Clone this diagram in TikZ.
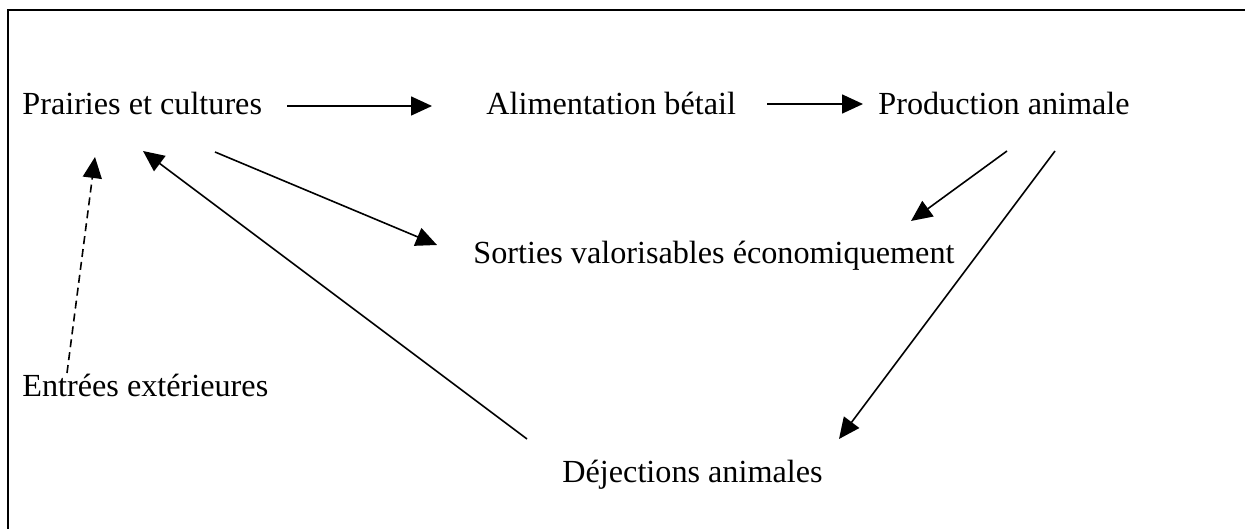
\documentclass[tikz,border=0pt]{standalone}
\usepackage{fontspec}
\setmainfont{Liberation Serif}
\usetikzlibrary{arrows.meta}
\begin{document}
\begin{tikzpicture}[x=0.5bp,y=-0.5bp,
  lbl/.style={anchor=base west,inner sep=0pt,font=\fontsize{16.1bp}{19bp}\selectfont},
  arr/.style={line width=0.8bp,-{Triangle[length=10.5bp,width=9.5bp]}},
  darr/.style={arr,dash pattern=on 4bp off 2.5bp}]
\useasboundingbox (0,0) rectangle (1245,529);
\draw[line width=1.1bp] (8,540) -- (8,10) -- (1255,10);
\node[lbl] (pc) at (22,115) {Prairies et cultures};
\node[lbl] (ab) at (486,115) {Alimentation bétail};
\node[lbl] (pa) at (878,115) {Production animale};
\node[lbl] (sv) at (473,264) {Sorties valorisables économiquement};
\node[lbl] (ee) at (22,396) {Entrées extérieures};
\node[lbl] (da) at (562,482) {Déjections animales};
% connector end points
\coordinate (pcR) at (287,106);
\coordinate (abL) at (432,106);
\coordinate (abR) at (767,104);
\coordinate (paL) at (863,104);
\coordinate (pcS) at (215,152);
\coordinate (svL) at (437,245);
\coordinate (paS) at (1007,151);
\coordinate (svR) at (911,221);
\coordinate (paD) at (1055,151);
\coordinate (daR) at (839,439);
\coordinate (daL) at (527,439);
\coordinate (pcD) at (143,151);
\coordinate (eeT) at (67,373);
\coordinate (pcE) at (95,157);
\draw[arr] (pcR) -- (abL);
\draw[arr] (abR) -- (paL);
\draw[arr] (pcS) -- (svL);
\draw[arr] (paS) -- (svR);
\draw[arr] (paD) -- (daR);
\draw[arr] (daL) -- (pcD);
\draw[darr] (eeT) -- (pcE);
\end{tikzpicture}
\end{document}
